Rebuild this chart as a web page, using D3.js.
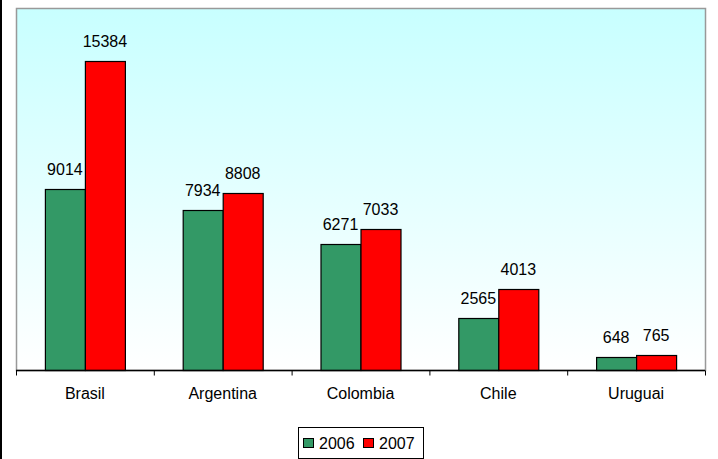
<!DOCTYPE html>
<html>
<head>
<meta charset="utf-8">
<script src="https://cdn.jsdelivr.net/npm/d3@7"></script>
<style>
  body { margin: 0; background: #fff; }
  svg { display: block; font-family: Arial, "Liberation Sans", sans-serif; }
</style>
</head>
<body>
<svg width="718" height="459"></svg>
<script>
(function () {

    var countries = ["Brasil", "Argentina", "Colombia", "Chile", "Uruguai"];
    var years = ["2006", "2007"];
    var values2006 = [9014, 7934, 6271, 2565, 648];
    var values2007 = [15384, 8808, 7033, 4013, 765];
    var yMax = 18000;

    var colors = { "2006": "#339966", "2007": "#ff0000" };

    var svg = d3.select("svg"),
        width = +svg.attr("width"),
        height = +svg.attr("height");

    var plot = { left: 16, right: 705, top: 8, bottom: 370 };

    var defs = svg.append("defs");
    var grad = defs.append("linearGradient")
        .attr("id", "bg")
        .attr("x1", 0).attr("y1", 0).attr("x2", 0).attr("y2", 1);
    grad.append("stop").attr("offset", "0%").attr("stop-color", "#c8ffff");
    grad.append("stop").attr("offset", "100%").attr("stop-color", "#ffffff");

    // left black edge of the frame
    svg.append("rect")
        .attr("x", 0).attr("y", 0)
        .attr("width", 2).attr("height", height)
        .attr("fill", "#000");

    var x0 = d3.scaleBand()
        .domain(countries)
        .range([plot.left, plot.right])
        .paddingInner(0)
        .paddingOuter(0);

    var x1 = d3.scaleBand()
        .domain(years)
        .range([0, 80]);

    var y = d3.scaleLinear()
        .domain([0, yMax])
        .range([plot.bottom, plot.top]);

    // plot area
    svg.append("rect")
        .attr("x", plot.left + 0.5).attr("y", plot.top + 0.5)
        .attr("width", plot.right - plot.left).attr("height", plot.bottom - plot.top)
        .attr("fill", "url(#bg)")
        .attr("stroke", "#999")
        .attr("stroke-width", 1.5);

    var rows = countries.map(function (c, i) {
        return { country: c, vals: [
            { year: "2006", value: values2006[i] },
            { year: "2007", value: values2007[i] }
        ] };
    });

    var group = svg.selectAll(".group")
        .data(rows)
        .enter().append("g")
        .attr("class", "group")
        .attr("transform", function (d) {
            return "translate(" + (x0(d.country) + (x0.bandwidth() - 80) / 2) + ",0)";
        });

    group.selectAll("rect")
        .data(function (d) { return d.vals; })
        .enter().append("rect")
        .attr("x", function (d) { return x1(d.year) + 0.5; })
        .attr("y", function (d) { return Math.round(y(d.value)) + 0.5; })
        .attr("width", x1.bandwidth())
        .attr("height", function (d) { return plot.bottom - Math.round(y(d.value)); })
        .attr("fill", function (d) { return colors[d.year]; })
        .attr("stroke", "#000")
        .attr("stroke-width", 1.2);

    group.selectAll("text")
        .data(function (d) { return d.vals; })
        .enter().append("text")
        .attr("x", function (d) { return x1(d.year) + x1.bandwidth() / 2; })
        .attr("y", function (d) { return y(d.value) - 14; })
        .attr("text-anchor", "middle")
        .attr("font-size", "16px")
        .attr("fill", "#000")
        .text(function (d) { return d.value; });

    // x axis
    var axis = svg.append("g")
        .attr("transform", "translate(0," + (plot.bottom + 0.5) + ")")
        .call(d3.axisBottom(x0).tickSize(0).tickPadding(17));
    axis.select(".domain").attr("stroke", "#000").attr("stroke-width", 1.5)
        .attr("d", "M" + plot.left + ",0H" + plot.right);
    axis.selectAll("text").attr("font-size", "16px").attr("font-family", "Arial, 'Liberation Sans', sans-serif").attr("fill", "#000");

    var tickPos = countries.map(function (c) { return x0(c); }).concat([plot.right]);
    axis.selectAll(".sep")
        .data(tickPos)
        .enter().append("line")
        .attr("class", "sep")
        .attr("x1", function (d) { return d + 0.5; })
        .attr("x2", function (d) { return d + 0.5; })
        .attr("y1", 0).attr("y2", 5)
        .attr("stroke", "#000");

    // legend
    var legend = svg.append("g").attr("transform", "translate(298,427)");
    legend.append("rect")
        .attr("x", 0.5).attr("y", 0.5)
        .attr("width", 125).attr("height", 31)
        .attr("fill", "#fff")
        .attr("stroke", "#000");

    var item = legend.selectAll(".item")
        .data(years)
        .enter().append("g")
        .attr("class", "item")
        .attr("transform", function (d, i) { return "translate(" + (5 + i * 60) + ",0)"; });
    item.append("rect")
        .attr("x", 0.5).attr("y", 11.5)
        .attr("width", 10).attr("height", 9)
        .attr("fill", function (d) { return colors[d]; })
        .attr("stroke", "#000");
    item.append("text")
        .attr("x", 16).attr("y", 21.5)
        .attr("font-size", "16px")
        .text(function (d) { return d; });

})();
</script>
</body>
</html>
